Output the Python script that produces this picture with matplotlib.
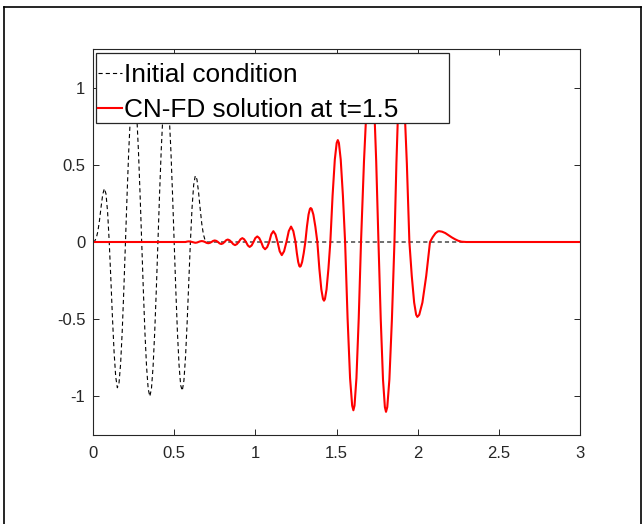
import numpy as np
import matplotlib
matplotlib.use("Agg")
import matplotlib.pyplot as plt
from matplotlib.lines import Line2D
from matplotlib.patches import Rectangle

plt.rcParams['font.family'] = ['Liberation Sans', 'DejaVu Sans']
plt.rcParams['axes.unicode_minus'] = False
plt.rcParams['lines.scale_dashes'] = False

# ---- data ----
x_init = np.round(np.linspace(0.0, 0.71, 72), 2).tolist() + [3.0]
y_init = [0, 0.0056, 0.025, 0.0685, 0.140, 0.229, 0.309, 0.346, 0.312, 0.193,
          0, -0.241, -0.493, -0.715, -0.874, -0.944, -0.916, -0.790, -0.579, -0.306,
          0, 0.308, 0.587, 0.808, 0.951, 1.0, 0.951, 0.809, 0.588, 0.309,
          0, -0.309, -0.588, -0.809, -0.951, -1.0, -0.951, -0.809, -0.588, -0.309,
          0, 0.309, 0.588, 0.809, 0.951, 1.0, 0.951, 0.809, 0.587, 0.308,
          0, -0.307, -0.582, -0.796, -0.928, -0.963, -0.898, -0.743, -0.520, -0.259,
          0, 0.219, 0.368, 0.429, 0.407, 0.325, 0.218, 0.119, 0.050, 0.013,
          0, 0, 0]

x_cn = [0.0, 0.55,
        0.57, 0.58, 0.59, 0.60,
        0.61, 0.62, 0.63, 0.64,
        0.65, 0.66, 0.67, 0.68,
        0.69, 0.70, 0.71, 0.72,
        0.73, 0.74, 0.75, 0.76,
        0.77, 0.78, 0.79, 0.80,
        0.81, 0.82, 0.83, 0.841,
        0.8525, 0.864, 0.875, 0.886,
        0.8975, 0.909, 0.92, 0.931,
        0.9425, 0.954, 0.965, 0.977,
        0.9885, 1.0, 1.012, 1.024,
        1.036, 1.048, 1.06, 1.073,
        1.0855, 1.098, 1.111, 1.124,
        1.137, 1.15, 1.163, 1.177,
        1.1915, 1.206, 1.22, 1.234,
        1.2475, 1.2558, 1.264, 1.2709, 1.275, 1.28, 1.2882, 1.298,
        1.308, 1.3179, 1.3278, 1.3361, 1.341, 1.3472, 1.3574, 1.3697,
        1.382, 1.3943, 1.4066, 1.4169, 1.423, 1.4289, 1.4386, 1.4503,
        1.462, 1.4758, 1.4896, 1.5011, 1.508, 1.5148, 1.526, 1.5395,
        1.553, 1.5683, 1.5836, 1.5965, 1.604, 1.611, 1.6228, 1.6369,
        1.651, 1.6693, 1.6876, 1.7029, 1.712, 1.719, 1.7306, 1.7446,
        1.7585, 1.7725, 1.7864, 1.798, 1.805, 1.8128, 1.8258, 1.8414,
        1.857, 1.869, 1.881, 1.891, 1.897, 1.9048, 1.9178, 1.9334,
        1.949, 1.9637, 1.9784, 1.9907, 1.998, 2.0097, 2.0292, 2.0526,
        2.076, 2.0928, 2.1096, 2.1236, 2.132, 2.15, 2.17, 2.19, 2.21, 2.23, 2.25, 2.27, 2.30, 3.0]
y_cn = [0, 0,
        0, 0.0028, 0.004, 0.0028,
        0, -0.0035, -0.005, -0.0035,
        0, 0.0042, 0.006, 0.0042,
        0, -0.0057, -0.008, -0.0057,
        0, 0.0071, 0.010, 0.0071,
        0, -0.0092, -0.013, -0.0092,
        0, 0.0113, 0.016, 0.0113,
        0, -0.0141, -0.020, -0.0141,
        0, 0.0177, 0.025, 0.0177,
        0, -0.0226, -0.032, -0.0226,
        0, 0.0255, 0.036, 0.0255,
        0, -0.0332, -0.047, -0.0332,
        0, 0.0495, 0.07, 0.0495,
        0, -0.060, -0.085, -0.060,
        0, 0.0707, 0.10, 0.0707,
        0, -0.0726, -0.1294, -0.1555, -0.16, -0.1555, -0.1294, -0.0726,
        0, 0.0999, 0.178, 0.2138, 0.22, 0.2138, 0.178, 0.0999,
        0, -0.1725, -0.3074, -0.3694, -0.38, -0.3694, -0.3074, -0.1725,
        0, 0.2996, 0.5339, 0.6415, 0.66, 0.6415, 0.5339, 0.2996,
        0, -0.4949, -0.8818, -1.0595, -1.09, -1.0595, -0.8818, -0.4949,
        0, 0.522, 0.930, 1.118, 1.15, 1.118, 0.930, 0.522,
        0, -0.4994, -0.8899, -1.0692, -1.10, -1.0692, -0.8899, -0.4994,
        0, 0.508, 0.906, 1.089, 1.12, 1.089, 0.906, 0.508,
        0, -0.2202, -0.3924, -0.4714, -0.485, -0.4714, -0.3924, -0.2202,
        0, 0.0318, 0.0566, 0.068, 0.07, 0.067, 0.058, 0.044, 0.03, 0.018, 0.008, 0.002, 0, 0]

xticks = [0, 0.5, 1, 1.5, 2, 2.5, 3]
xticklabels = ['0', '0.5', '1', '1.5', '2', '2.5', '3']
yticks = [-1, -0.5, 0, 0.5, 1]
yticklabels = ['-1', '-0.5', '0', '0.5', '1']
labels = ['Initial condition', 'CN-FD solution at t=1.5']

# ---- figure ----
W, H = 644, 524
fig = plt.figure(figsize=(W / 100, H / 100), dpi=100)
fig.patch.set_facecolor('white')

# outer frame
fx0, fx1, fy1 = 3.5 / W, 640.5 / W, 1 - 6.5 / H
for xs, ys in [([fx0, fx0], [-0.01, fy1]), ([fx0, fx1], [fy1, fy1]), ([fx1, fx1], [fy1, -0.01])]:
    fig.add_artist(Line2D(xs, ys, transform=fig.transFigure, color='black', lw=1.2))

ax = fig.add_axes([93 / W, 1 - 435 / H, 487 / W, 386 / H])
gray = '#262626'

ax.plot(x_init, y_init, color='black', lw=0.8, dashes=(3.0, 2.2), label=labels[0])
ax.plot(x_cn, y_cn, color='red', lw=1.5, label=labels[1])

ax.set_xlim(0, 3)
ax.set_ylim(-1.25, 1.25)
ax.set_xticks(xticks)
ax.set_xticklabels(xticklabels)
ax.set_yticks(yticks)
ax.set_yticklabels(yticklabels)
ax.tick_params(axis='both', direction='in', top=True, right=True, length=4.5,
               width=0.7, color=gray, labelcolor=gray, labelsize=12)
ax.tick_params(axis='x', pad=8)
ax.tick_params(axis='y', pad=5.5)
for sp in ax.spines.values():
    sp.set_color(gray)
    sp.set_linewidth(0.8)

# legend box (MATLAB-style, wider than its text)
ax.add_patch(Rectangle((3 / 487, (435 - 122.7) / 386), 353 / 487, 70 / 386,
                       transform=ax.transAxes, facecolor='white', edgecolor=gray,
                       lw=0.9, zorder=5, clip_on=False))
leg = ax.legend(loc='upper left', bbox_to_anchor=(5 / 487, (435 - 63.3) / 386),
                borderaxespad=0, fontsize=18.9, handlelength=0.9,
                handletextpad=0.1, borderpad=0, labelspacing=0.42,
                frameon=False)
leg.set_zorder(10)

fig.savefig('out.png', dpi=100, facecolor='white')
